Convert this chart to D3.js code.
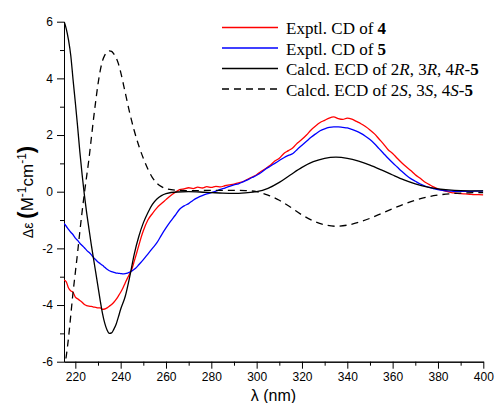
<!DOCTYPE html>
<html>
<head>
<meta charset="utf-8">
<script src="https://cdn.jsdelivr.net/npm/d3@7"></script>
<style>
  body { margin: 0; background: #fff; }
  .tick text { font-family: "Liberation Sans", Arial, sans-serif; font-size: 12px; fill: #000; }
  .axis path, .axis line { stroke: #000; stroke-width: 1; }
  .legend text { font-family: "Liberation Serif", "Times New Roman", serif; font-size: 17px; fill: #000; }
</style>
</head>
<body>
<div id="chart"></div>
<script>
// wavelength grids (nm)
let calcWl = [215,216,217,218,219,220,221,222,223,224,225,226,227,228,229,230,231,232,233,234,235,236,237,238,239,240,
  242,244,246,248,250,252,254,256,258,260,265,270,275,280,285,290,295,300,305,310,315,320,325,330,335,340,345,350,355,
  360,365,370,375,380,390,400];
let expWl = [215,216,217,218,219,220,221,222,223,224,225,226,227,228,229,230,231,232,233,234,235,236,237,238,239,240,
  241,242,243,244,245,246,247,248,249,250,252,254,256,258,260,262,264,266,268,270,272,274,276,278,280,282,284,286,288,
  290,292,294,296,298,300,302,304,306,308,310,312,314,316,318,320,322,324,326,328,330,332,334,336,338,340,342,344,346,
  348,350,352,354,356,358,360,362,364,366,368,370,372,374,376,378,380,382,384,386,388,390,392,394,396,398,400];

// Exptl. CD of 4 (red)
let cd4 = [-3.12,-3.18,-3.40,-3.50,-3.55,-3.72,-3.78,-3.84,-3.90,-3.98,-4.02,-4.04,-4.05,-4.07,-4.08,-4.10,-4.10,-4.15,
  -4.14,-4.10,-4.04,-3.98,-3.90,-3.80,-3.68,-3.55,-3.40,-3.22,-3.05,-2.90,-2.72,-2.45,-2.18,-1.90,-1.62,-1.38,
  -1.00,-0.77,-0.57,-0.42,-0.28,-0.14,-0.03,0.07,0.10,0.14,0.11,0.16,0.13,0.18,0.15,0.19,0.17,0.21,0.24,
  0.27,0.31,0.36,0.44,0.52,0.60,0.72,0.82,0.93,1.08,1.18,1.35,1.45,1.55,1.72,1.85,2.00,2.18,2.32,2.44,2.52,2.60,2.64,
  2.58,2.55,2.60,2.56,2.48,2.40,2.30,2.18,2.04,1.86,1.68,1.48,1.35,1.18,1.02,0.88,0.75,0.60,0.48,0.35,0.26,0.17,0.10,
  0.05,0.01,-0.03,-0.05,-0.07,-0.08,-0.09,-0.10,-0.10,-0.11];

// Exptl. CD of 5 (blue)
let cd5 = [-1.12,-1.22,-1.33,-1.43,-1.52,-1.64,-1.72,-1.82,-1.90,-1.98,-2.07,-2.14,-2.22,-2.32,-2.40,-2.48,-2.54,-2.60,
  -2.67,-2.74,-2.79,-2.82,-2.85,-2.87,-2.88,-2.89,-2.90,-2.89,-2.87,-2.84,-2.80,-2.74,-2.67,-2.58,-2.49,-2.40,
  -2.20,-2.00,-1.80,-1.53,-1.28,-1.05,-0.84,-0.62,-0.50,-0.42,-0.30,-0.21,-0.14,-0.08,-0.03,0.02,0.08,0.13,0.19,
  0.24,0.28,0.35,0.42,0.50,0.58,0.68,0.80,0.90,1.00,1.10,1.20,1.28,1.35,1.50,1.64,1.78,1.92,2.04,2.15,2.22,2.27,2.29,
  2.29,2.27,2.25,2.20,2.14,2.06,1.96,1.84,1.69,1.52,1.35,1.18,1.02,0.87,0.72,0.58,0.46,0.37,0.28,0.21,0.15,0.11,0.07,
  0.05,0.03,0.02,0.01,0.01,0.01,0.01,0.02,0.02,0.03];

// Calcd. ECD of 2R,3R,4R-5 (solid black)
let ecdR = [6.02,5.75,5.35,4.80,3.95,3.15,2.30,1.40,0.60,-0.12,-0.75,-1.30,-1.85,-2.35,-2.85,-3.35,-3.85,-4.30,-4.65,
  -4.88,-5.00,-4.98,-4.85,-4.68,-4.42,-4.15,-3.70,-3.00,-2.20,-1.58,-1.10,-0.74,-0.45,-0.26,-0.14,-0.07,-0.01,0.0,
  -0.01,-0.03,-0.05,-0.06,-0.04,0.0,0.12,0.33,0.60,0.86,1.06,1.18,1.22,1.18,1.08,0.94,0.77,0.59,0.42,0.28,0.17,0.10,
  0.04,0.03];

// Calcd. ECD of 2S,3S,4S-5 (dashed black)
let ecdS = [-6.3,-5.8,-5.15,-4.35,-3.55,-2.85,-2.15,-1.40,-0.70,-0.05,0.55,1.15,1.85,2.55,3.20,3.80,4.28,4.62,4.82,
  4.93,4.97,4.95,4.86,4.73,4.52,4.22,3.50,2.78,2.15,1.62,1.18,0.80,0.50,0.30,0.18,0.11,0.05,0.04,0.04,0.05,0.05,0.05,
  0.04,0.0,-0.12,-0.30,-0.55,-0.82,-1.03,-1.17,-1.22,-1.18,-1.08,-0.94,-0.77,-0.60,-0.44,-0.30,-0.19,-0.12,-0.05,-0.03];

let xMajor = [220,240,260,280,300,320,340,360,380,400];
let xMinor = [230,250,270,290,310,330,350,370,390];
let yMajor = [-6,-4,-2,0,2,4,6];
let yMinor = [-5,-3,-1,1,3,5];

let W = 495, H = 403;
let x = d3.scaleLinear().domain([215, 400]).range([64, 483.3]);
let y = d3.scaleLinear().domain([-6, 6]).range([361.7, 21.7]);

let svg = d3.select("#chart").append("svg").attr("width", W).attr("height", H);

svg.append("clipPath").attr("id", "plotclip")
  .append("rect").attr("x", 64).attr("y", 21.7).attr("width", 419.3).attr("height", 340);

// axes: minor ticks first, then major with labels
svg.append("g").attr("class", "axis").attr("transform", "translate(0," + y(-6) + ")")
  .call(d3.axisBottom(x).tickValues(xMinor).tickSize(4).tickSizeOuter(0).tickFormat(""));
svg.append("g").attr("class", "axis").attr("transform", "translate(0," + y(-6) + ")")
  .call(d3.axisBottom(x).tickValues(xMajor).tickSize(7).tickSizeOuter(0).tickPadding(4).tickFormat(d => d));
svg.append("g").attr("class", "axis").attr("transform", "translate(" + x(215) + ",0)")
  .call(d3.axisLeft(y).tickValues(yMinor).tickSize(4).tickSizeOuter(0).tickFormat(""));
svg.append("g").attr("class", "axis").attr("transform", "translate(" + x(215) + ",0)")
  .call(d3.axisLeft(y).tickValues(yMajor).tickSize(7).tickSizeOuter(0).tickPadding(4).tickFormat(d => String(d)));

// curves
let series = [
  {wl: expWl, v: cd4, color: "#ff0000", dash: null},
  {wl: expWl, v: cd5, color: "#0000ff", dash: null},
  {wl: calcWl, v: ecdR, color: "#000000", dash: null},
  {wl: calcWl, v: ecdS, color: "#000000", dash: "7,5"}
];
let line = d3.line().x(d => x(d[0])).y(d => y(d[1])).curve(d3.curveMonotoneX);
let plot = svg.append("g").attr("clip-path", "url(#plotclip)");
series.forEach(function(s){
  plot.append("path")
    .datum(s.wl.map((w, i) => [w, s.v[i]]))
    .attr("d", line)
    .attr("fill", "none")
    .attr("stroke", s.color)
    .attr("stroke-width", 1.3)
    .attr("stroke-dasharray", s.dash);
});

// axis titles
svg.append("text").attr("x", 273.5).attr("y", 401)
  .attr("text-anchor", "middle")
  .style("font-family", "'Liberation Sans', Arial, sans-serif").style("font-size", "16px")
  .text("λ (nm)");

let yt = svg.append("text")
  .attr("transform", "translate(33,192) rotate(-90)")
  .attr("text-anchor", "middle")
  .style("font-family", "'Liberation Sans', Arial, sans-serif").style("font-size", "17px");
yt.append("tspan").style("font-size", "14px").text("Δε ");
yt.append("tspan").style("font-weight", "bold").style("font-size", "22px").text("(");
yt.append("tspan").text("M");
yt.append("tspan").attr("dy", -7).style("font-size", "12px").text("-1");
yt.append("tspan").attr("dy", 7).text("cm");
yt.append("tspan").attr("dy", -7).style("font-size", "12px").text("-1");
yt.append("tspan").attr("dy", 7).style("font-weight", "bold").style("font-size", "22px").text(")");

// legend
let legendRows = [
  {color: "#ff0000", dash: null, parts: [["Exptl. CD of ", ""], ["4", "b"]]},
  {color: "#0000ff", dash: null, parts: [["Exptl. CD of ", ""], ["5", "b"]]},
  {color: "#000000", dash: null, parts: [["Calcd. ECD of 2", ""], ["R", "i"], [", 3", ""], ["R", "i"], [", 4", ""], ["R", "i"], ["-", ""], ["5", "b"]]},
  {color: "#000000", dash: "7,5", parts: [["Calcd. ECD of 2", ""], ["S", "i"], [", 3", ""], ["S", "i"], [", 4", ""], ["S", "i"], ["-", ""], ["5", "b"]]}
];
let lg = svg.append("g").attr("class", "legend");
legendRows.forEach(function(r, i){
  let ly = 27.5 + i * 20.5;
  lg.append("line").attr("x1", 222).attr("x2", 278).attr("y1", ly).attr("y2", ly)
    .attr("stroke", r.color).attr("stroke-width", 1.3).attr("stroke-dasharray", r.dash);
  let t = lg.append("text").attr("x", 286).attr("y", ly + 6.5);
  r.parts.forEach(function(p){
    let ts = t.append("tspan").text(p[0]);
    if (p[1] == "b") ts.style("font-weight", "bold");
    if (p[1] == "i") ts.style("font-style", "italic");
  });
});
</script>
</body>
</html>
